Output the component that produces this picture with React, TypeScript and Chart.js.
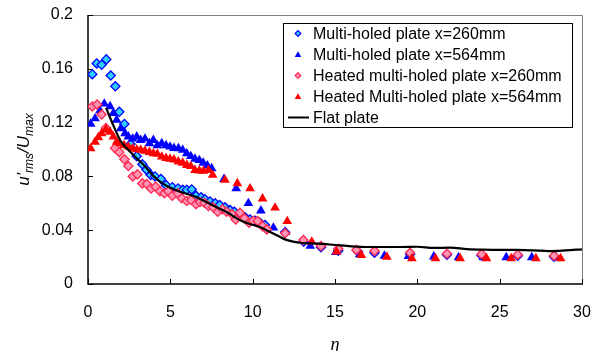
import React, { useEffect, useRef } from 'react';
import { Chart, registerables } from 'chart.js';

Chart.register(...registerables);

// ---- data ----
const seriesLabels = [
  'Multi-holed plate x=260mm',
  'Multi-holed plate x=564mm',
  'Heated multi-holed plate x=260mm',
  'Heated Multi-holed plate x=564mm',
  'Flat plate',
];

const mh260Eta = [0.26, 0.53, 0.83, 1.11, 1.38, 1.66, 1.9, 2.21, 2.58, 2.96, 3.3, 3.55, 3.81, 4.07, 4.43, 4.74, 5.12, 5.47, 5.75, 6.0, 6.3, 6.56, 6.87, 7.1, 7.41, 7.72, 8.0, 8.32, 8.63, 8.89, 9.23, 9.54, 9.84, 10.15, 10.45, 10.75, 11.97, 13.1, 14.15, 15.2, 16.4, 17.4, 19.56, 21.8, 23.9, 26.1, 28.3];
const mh260U = [0.156, 0.164, 0.163, 0.167, 0.155, 0.147, 0.128, 0.119, 0.104, 0.095, 0.089, 0.085, 0.081, 0.08, 0.078, 0.0735, 0.072, 0.071, 0.07, 0.07, 0.0703, 0.0656, 0.0644, 0.063, 0.0614, 0.06, 0.0587, 0.057, 0.055, 0.0537, 0.052, 0.0496, 0.048, 0.047, 0.0456, 0.0438, 0.0385, 0.0314, 0.0273, 0.0247, 0.024, 0.0233, 0.0222, 0.0218, 0.0212, 0.021, 0.0203];

const mh564Eta = [0.16, 0.43, 0.73, 0.99, 1.34, 1.54, 1.74, 1.99, 2.25, 2.45, 2.71, 2.96, 3.2, 3.46, 3.73, 3.97, 4.21, 4.48, 4.74, 4.98, 5.22, 5.49, 5.75, 6.0, 6.24, 6.5, 6.76, 7.0, 7.25, 7.51, 8.26, 9.0, 9.74, 10.5, 11.26, 12.0, 13.5, 15.05, 16.5, 18.0, 19.46, 21.0, 22.5, 24.0, 25.4, 26.95, 28.4];
const mh564U = [0.119, 0.123, 0.129, 0.134, 0.132, 0.127, 0.122, 0.1157, 0.112, 0.1095, 0.108, 0.1095, 0.107, 0.108, 0.1045, 0.107, 0.103, 0.1045, 0.103, 0.102, 0.101, 0.1008, 0.0996, 0.097, 0.095, 0.093, 0.092, 0.09, 0.088, 0.086, 0.078, 0.071, 0.06, 0.0545, 0.0418, 0.0385, 0.0282, 0.0236, 0.0219, 0.0209, 0.0206, 0.0203, 0.0198, 0.02, 0.0198, 0.0198, 0.0203];

const heat260Eta = [0.26, 0.55, 0.83, 1.09, 1.64, 1.9, 2.21, 2.45, 2.72, 3.0, 3.3, 3.57, 3.83, 4.11, 4.37, 4.64, 4.88, 5.12, 5.45, 5.69, 6.0, 6.26, 6.56, 6.8, 7.07, 7.31, 7.6, 7.88, 8.16, 8.42, 8.73, 8.97, 9.23, 9.5, 9.78, 10.04, 10.3, 10.6, 10.86, 11.97, 13.08, 14.15, 15.2, 16.3, 17.4, 19.56, 21.8, 23.9, 26.1, 28.3];
const heat260U = [0.132, 0.1335, 0.126, 0.116, 0.101, 0.098, 0.0927, 0.0877, 0.08, 0.0815, 0.0748, 0.0743, 0.071, 0.0723, 0.069, 0.0674, 0.069, 0.0656, 0.0674, 0.0637, 0.0617, 0.0624, 0.0594, 0.061, 0.0604, 0.058, 0.057, 0.0537, 0.0555, 0.0537, 0.052, 0.048, 0.053, 0.0488, 0.0456, 0.047, 0.0468, 0.043, 0.0406, 0.0377, 0.0327, 0.0282, 0.0262, 0.0253, 0.0245, 0.0232, 0.0225, 0.0222, 0.0218, 0.021];

const heat564Eta = [0.16, 0.43, 0.63, 0.83, 1.09, 1.34, 1.54, 1.74, 1.94, 2.19, 2.45, 2.71, 2.96, 3.2, 3.46, 3.73, 3.97, 4.21, 4.48, 4.74, 4.98, 5.22, 5.49, 5.75, 6.0, 6.24, 6.5, 6.76, 7.0, 7.31, 7.57, 8.32, 9.07, 9.84, 10.6, 11.36, 12.1, 13.59, 15.1, 16.6, 18.15, 19.67, 21.1, 22.6, 24.2, 25.7, 27.2, 28.7];
const heat564U = [0.1008, 0.1057, 0.109, 0.112, 0.115, 0.113, 0.1095, 0.1057, 0.1045, 0.103, 0.102, 0.1008, 0.1, 0.0996, 0.099, 0.098, 0.097, 0.0966, 0.0946, 0.0936, 0.093, 0.0925, 0.091, 0.09, 0.0884, 0.0875, 0.0847, 0.0843, 0.084, 0.0847, 0.081, 0.0773, 0.0748, 0.071, 0.0635, 0.0567, 0.0466, 0.0314, 0.024, 0.0215, 0.0201, 0.019, 0.019, 0.019, 0.019, 0.019, 0.019, 0.019];

const flatEta = [1.1, 1.5, 2.0, 2.5, 3.0, 3.5, 4.0, 4.5, 5.0, 5.5, 6.0, 6.5, 7.0, 7.5, 8.0, 8.5, 9.0, 9.5, 10.0, 10.5, 11.0, 11.5, 12.0, 13.0, 14.0, 15.0, 16.0, 17.0, 18.0, 19.0, 20.0, 21.0, 22.0, 23.0, 24.0, 25.0, 26.0, 27.0, 28.0, 29.0, 30.0];
const flatU = [0.131, 0.119, 0.106, 0.099, 0.093, 0.087, 0.08, 0.075, 0.0715, 0.069, 0.067, 0.065, 0.062, 0.059, 0.056, 0.053, 0.049, 0.046, 0.044, 0.042, 0.039, 0.036, 0.033, 0.0305, 0.03, 0.029, 0.028, 0.0275, 0.0275, 0.0275, 0.0277, 0.0268, 0.027, 0.026, 0.0255, 0.0253, 0.0253, 0.025, 0.0245, 0.025, 0.0258];

const xTickValues = [0, 5, 10, 15, 20, 25, 30];
const yTickValues = [0, 0.04, 0.08, 0.12, 0.16, 0.2];

const pts = (xs: number[], ys: number[]) => xs.map((x, i) => ({ x, y: ys[i] }));

const FONT = "'Liberation Sans', Arial, sans-serif";

const CYAN_FILL = '#2fd0ff';
const BLUE = '#0000ff';
const PINK_FILL = '#ff94b4';
const PINK_BORDER = '#ff2850';
const RED = '#ff0000';

function diamond(ctx: CanvasRenderingContext2D, x: number, y: number, r: number, fill: string, stroke: string, lw: number) {
  ctx.beginPath();
  ctx.moveTo(x - r, y);
  ctx.lineTo(x, y - r);
  ctx.lineTo(x + r, y);
  ctx.lineTo(x, y + r);
  ctx.closePath();
  ctx.fillStyle = fill;
  ctx.fill();
  ctx.lineWidth = lw;
  ctx.strokeStyle = stroke;
  ctx.stroke();
}

function triangle(ctx: CanvasRenderingContext2D, x: number, y: number, r: number, fill: string) {
  ctx.beginPath();
  ctx.moveTo(x, y - r);
  ctx.lineTo(x + r * 0.866, y + r * 0.5);
  ctx.lineTo(x - r * 0.866, y + r * 0.5);
  ctx.closePath();
  ctx.fillStyle = fill;
  ctx.fill();
}

const framePlugin = {
  id: 'frameAndTitles',
  beforeDatasetsDraw(chart: any) {
    const ctx = chart.ctx as CanvasRenderingContext2D;
    const { left, right, top, bottom } = chart.chartArea;
    ctx.save();
    ctx.strokeStyle = '#7f7f7f';
    ctx.lineWidth = 1;
    ctx.beginPath();
    ctx.moveTo(left, top + 0.5);
    ctx.lineTo(right + 0.5, top + 0.5);
    ctx.lineTo(right + 0.5, bottom);
    ctx.stroke();
    ctx.strokeStyle = '#000';
    ctx.lineWidth = 1.5;
    ctx.beginPath();
    ctx.moveTo(left, top);
    ctx.lineTo(left, bottom);
    ctx.lineTo(right + 1, bottom);
    ctx.stroke();
    ctx.lineWidth = 1;
    ctx.beginPath();
    yTickValues.forEach((v) => {
      const y = Math.round(chart.scales.y.getPixelForValue(v)) + 0.5;
      ctx.moveTo(left, y);
      ctx.lineTo(left + 5, y);
    });
    xTickValues.forEach((v) => {
      const x = Math.round(chart.scales.x.getPixelForValue(v)) + 0.5;
      ctx.moveTo(x, bottom);
      ctx.lineTo(x, bottom - 5);
    });
    ctx.stroke();
    ctx.restore();
  },
  afterDraw(chart: any) {
    const ctx = chart.ctx as CanvasRenderingContext2D;
    const { left, right, top, bottom } = chart.chartArea;
    ctx.save();
    const bx = 283.5, by = 23.5, bw = 289, bh = 104;
    ctx.fillStyle = '#fff';
    ctx.fillRect(bx, by, bw, bh);
    ctx.strokeStyle = '#000';
    ctx.lineWidth = 1;
    ctx.strokeRect(bx, by, bw, bh);
    ctx.font = `16px ${FONT}`;
    ctx.textBaseline = 'middle';
    ctx.textAlign = 'left';
    const mx = 298, tx = 313;
    seriesLabels.forEach((label, i) => {
      const y = 33.5 + i * 21;
      if (i === 0) diamond(ctx, mx, y, 2.8, CYAN_FILL, BLUE, 1.2);
      if (i === 1) triangle(ctx, mx, y + 0.5, 3.8, BLUE);
      if (i === 2) diamond(ctx, mx, y, 2.8, PINK_FILL, PINK_BORDER, 1.2);
      if (i === 3) triangle(ctx, mx, y + 0.5, 3.8, RED);
      if (i === 4) {
        ctx.strokeStyle = '#000';
        ctx.lineWidth = 2;
        ctx.beginPath();
        ctx.moveTo(288, y);
        ctx.lineTo(309, y);
        ctx.stroke();
      }
      ctx.fillStyle = '#000';
      ctx.fillText(label, tx, y + 1);
    });

    ctx.font = `italic 18px 'Liberation Serif', 'Times New Roman', serif`;
    ctx.textAlign = 'center';
    ctx.textBaseline = 'middle';
    ctx.fillStyle = '#000';
    ctx.fillText('\u03b7', (left + right) / 2, 345);

    const parts: [string, boolean][] = [["u'", false], ['rms', true], ['/U', false], ['max', true]];
    const mainFont = `italic 17px ${FONT}`;
    const subFont = `italic 12px ${FONT}`;
    let total = 0;
    parts.forEach(([t, sub]) => {
      ctx.font = sub ? subFont : mainFont;
      total += ctx.measureText(t).width;
    });
    ctx.translate(29, (top + bottom) / 2);
    ctx.rotate(-Math.PI / 2);
    ctx.textAlign = 'left';
    ctx.textBaseline = 'alphabetic';
    let cx = -total / 2;
    parts.forEach(([t, sub]) => {
      ctx.font = sub ? subFont : mainFont;
      ctx.fillText(t, cx, sub ? 4 : 0);
      cx += ctx.measureText(t).width;
    });
    ctx.restore();
  },
};

const zeroPad = (s: any) => {
  s.paddingTop = 0;
  s.paddingBottom = 0;
  s.paddingLeft = 0;
  s.paddingRight = 0;
};

export default function App() {
  const canvasRef = useRef<HTMLCanvasElement | null>(null);

  useEffect(() => {
    const canvas = canvasRef.current;
    if (!canvas) return;
    const tickFont = { family: FONT, size: 16 };
    const chart = new Chart(canvas, {
      type: 'scatter',
      data: {
        datasets: [
          {
            label: seriesLabels[0],
            data: pts(mh260Eta, mh260U),
            pointStyle: 'rectRot',
            pointRadius: 4.6,
            backgroundColor: CYAN_FILL,
            borderColor: BLUE,
            borderWidth: 1.3,
            order: 5,
          },
          {
            label: seriesLabels[1],
            data: pts(mh564Eta, mh564U),
            pointStyle: 'triangle',
            pointRadius: 5.6,
            backgroundColor: BLUE,
            borderColor: BLUE,
            borderWidth: 0,
            order: 4,
          },
          {
            label: seriesLabels[2],
            data: pts(heat260Eta, heat260U),
            pointStyle: 'rectRot',
            pointRadius: 4.6,
            backgroundColor: PINK_FILL,
            borderColor: PINK_BORDER,
            borderWidth: 1.3,
            order: 3,
          },
          {
            label: seriesLabels[3],
            data: pts(heat564Eta, heat564U),
            pointStyle: 'triangle',
            pointRadius: 5.6,
            backgroundColor: RED,
            borderColor: RED,
            borderWidth: 0,
            order: 2,
          },
          {
            label: seriesLabels[4],
            data: pts(flatEta, flatU),
            showLine: true,
            pointRadius: 0,
            borderColor: '#000',
            backgroundColor: '#000',
            borderWidth: 2.2,
            cubicInterpolationMode: 'monotone',
            order: 1,
          } as any,
        ],
      },
      options: {
        animation: false,
        responsive: false,
        devicePixelRatio: 1,
        layout: { padding: { top: 15, right: 19, left: 0, bottom: 0 } },
        plugins: {
          legend: { display: false },
          tooltip: { enabled: false },
        },
        scales: {
          x: {
            type: 'linear',
            min: 0,
            max: 30,
            afterBuildTicks: (s: any) => {
              s.ticks = xTickValues.map((v) => ({ value: v }));
            },
            afterFit: (s: any) => {
              s.height = 67;
              zeroPad(s);
            },
            grid: { display: false, drawTicks: false },
            border: { display: false },
            ticks: {
              font: tickFont,
              color: '#000',
              padding: 19,
              maxRotation: 0,
              callback: (v: any) => String(v),
            },
          },
          y: {
            type: 'linear',
            min: 0,
            max: 0.2,
            afterBuildTicks: (s: any) => {
              s.ticks = yTickValues.map((v) => ({ value: v }));
            },
            afterFit: (s: any) => {
              s.width = 88;
              zeroPad(s);
            },
            grid: { display: false, drawTicks: false },
            border: { display: false },
            ticks: {
              font: tickFont,
              color: '#000',
              padding: 15,
              callback: (v: any) => String(Number(Number(v).toFixed(2))),
            },
          },
        },
      },
      plugins: [framePlugin],
    } as any);
    return () => chart.destroy();
  }, []);

  return (
    <div style={{ position: 'absolute', left: 0, top: 0, width: 601, height: 351, background: '#fff' }}>
      <canvas ref={canvasRef} width={601} height={351} style={{ display: 'block' }} />
    </div>
  );
}
